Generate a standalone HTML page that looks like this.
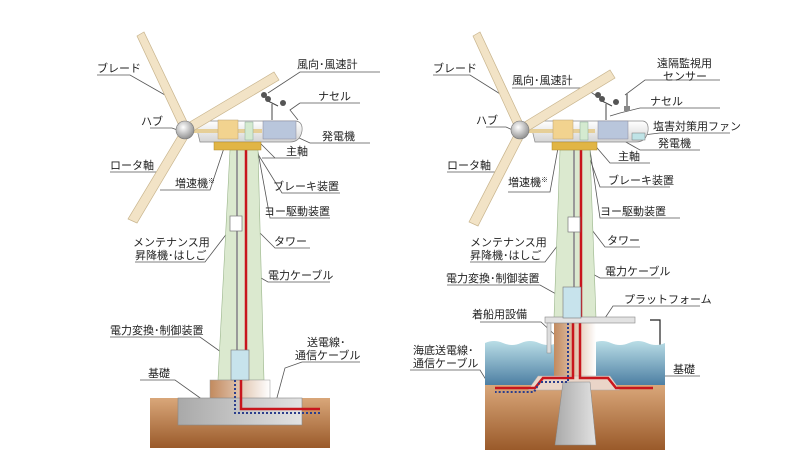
<!DOCTYPE html>
<html><head><meta charset="utf-8"><style>
html,body{margin:0;padding:0;background:#fff}
svg{display:block}
text{font-family:"Liberation Sans","Noto Sans CJK JP",sans-serif;font-size:11px;fill:#222}
</style></head><body>
<svg width="811" height="461" viewBox="0 0 811 461" xmlns="http://www.w3.org/2000/svg">
<defs>
<linearGradient id="gr" x1="0" y1="0" x2="0" y2="1"><stop offset="0" stop-color="#d9a77a"/><stop offset="1" stop-color="#9a5a2a"/></linearGradient>
<linearGradient id="wt" x1="0" y1="0" x2="0" y2="1"><stop offset="0" stop-color="#b9dde6"/><stop offset="1" stop-color="#4d7fa3"/></linearGradient>
<linearGradient id="fb" x1="0" y1="0" x2="1" y2="0"><stop offset="0" stop-color="#c28a5e"/><stop offset="1" stop-color="#fff"/></linearGradient>
<linearGradient id="gy" x1="0" y1="0" x2="1" y2="0"><stop offset="0" stop-color="#a9a9a9"/><stop offset="1" stop-color="#e2e2e2"/></linearGradient>
<linearGradient id="nc" x1="0" y1="0" x2="0" y2="1"><stop offset="0" stop-color="#fff"/><stop offset="1" stop-color="#d4d4d4"/></linearGradient>
<radialGradient id="hb" cx="0.4" cy="0.35" r="0.7"><stop offset="0" stop-color="#fff"/><stop offset="1" stop-color="#8a8a8a"/></radialGradient>
</defs>
<g stroke="#555" stroke-width="0.8" fill="none">
<!-- LEFT leaders -->
<polyline points="97,75 130,75 165,95"/><polyline points="268,93 300,72 380,72"/>
<polyline points="300,103 290,110 298,120"/><line x1="300" y1="103" x2="360" y2="103"/>
<polyline points="150,128 172,128 180,131"/><polyline points="275,127 310,143 370,143"/>
<polyline points="110,172 160,172 185,140"/><polyline points="262,158 300,158"/><line x1="255" y1="138" x2="275" y2="158"/>
<polyline points="160,190 210,190 225,145"/><polyline points="248,138 282,193 340,193"/>
<polyline points="258,152 270,218 330,218"/><polyline points="135,262 205,262 228,232"/>
<polyline points="257,230 275,248 310,248"/><polyline points="247,270 268,282 330,282"/>
<polyline points="110,337 200,337 235,362"/><polyline points="302,362 285,368 275,405"/><line x1="302" y1="362" x2="360" y2="362"/>
<polyline points="140,380 175,380 210,405"/>
<!-- RIGHT leaders -->
<polyline points="433,75 470,75 505,97"/><polyline points="598,97 585,88 512,88"/>
<polyline points="625,95 645,80 720,80"/><polyline points="640,108 620,113 610,116"/><line x1="640" y1="108" x2="720" y2="108"/>
<polyline points="486,127 506,127 515,131"/><polyline points="643,135 660,133 730,133"/>
<polyline points="617,137 640,150 700,150"/><polyline points="447,172 495,172 522,140"/>
<polyline points="592,142 610,163 650,163"/><polyline points="508,192 550,192 558,148"/>
<polyline points="583,140 600,187 670,187"/><polyline points="590,150 600,218 680,218"/>
<polyline points="470,262 545,262 568,232"/><polyline points="592,230 605,247 640,247"/>
<polyline points="585,270 600,278 660,278"/><polyline points="447,285 540,285 574,304"/>
<polyline points="605,318 613,306 700,306"/><polyline points="480,322 541,322 555,335"/>
<polyline points="410,370 480,370 488,383"/><polyline points="660,376 700,376"/>
<polyline points="650,320 660,320 660,445 650,445" stroke="#222" stroke-width="1.2"/>
</g>
<!-- LEFT turbine -->
<rect x="150" y="398" width="180" height="50" fill="url(#gr)"/>
<polygon points="230,150 258,150 264,380 218,380" fill="#dbe9cf" stroke="#9ab58b" stroke-width="0.6"/>
<line x1="237" y1="150" x2="237" y2="350" stroke="#999" stroke-width="2"/>
<line x1="246" y1="150" x2="246" y2="380" stroke="#c8161d" stroke-width="2.5"/>
<rect x="230" y="216" width="12" height="15" fill="#fff" stroke="#777" stroke-width="0.7"/>
<rect x="210" y="380" width="60" height="20" fill="url(#fb)" stroke="#999" stroke-width="0.5"/>
<rect x="178" y="398" width="124" height="27" fill="url(#gy)" stroke="#888" stroke-width="0.6"/>
<rect x="231" y="350" width="18" height="30" fill="#c7e3ec" stroke="#777" stroke-width="0.6"/>
<polyline points="241,380 241,409 320,409" fill="none" stroke="#c8161d" stroke-width="2.5"/>
<polyline points="235,380 235,413 320,413" fill="none" stroke="#2c3e8c" stroke-width="2" stroke-dasharray="2,2"/>
<path d="M195,121 H296 Q303,122 302,131 Q300,142 290,142 H200 Z" fill="url(#nc)" stroke="#888" stroke-width="0.7"/>
<line x1="186" y1="131" x2="262" y2="131" stroke="#e6cf98" stroke-width="4"/>
<rect x="218" y="120" width="20" height="19" fill="#f2d38f" stroke="#b8a070" stroke-width="0.5"/>
<rect x="245" y="122" width="8" height="18" fill="#d4ead0" stroke="#8a9" stroke-width="0.5"/>
<rect x="263" y="121" width="33" height="18" fill="#b9c6dc" stroke="#889" stroke-width="0.5"/>
<rect x="214" y="142" width="47" height="8" fill="#e1b545" stroke="#b08a2a" stroke-width="0.5"/>
<g stroke="#444" stroke-width="1"><line x1="272" y1="120" x2="272" y2="104"/><line x1="266" y1="100" x2="278" y2="106"/></g>
<circle cx="264" cy="95" r="3" fill="#555"/><circle cx="268" cy="99" r="3" fill="#555"/><circle cx="283" cy="103" r="3" fill="#555"/>
<g stroke="#c8b48c" stroke-width="0.7" fill="#f2e3c6">
<polygon points="137,36 144,32 190,128 182,132"/>
<polygon points="183,126 274,72 279,80 188,134"/>
<polygon points="181,131 190,134 137,223 128,219"/>
</g>
<circle cx="185" cy="130" r="9" fill="url(#hb)" stroke="#777" stroke-width="0.6"/>
<!-- RIGHT turbine -->
<rect x="485" y="385" width="180" height="65" fill="url(#gr)"/>
<path d="M485,343 q9,-4 18,0 t18,0 t18,0 t18,0 t18,0 t18,0 t18,0 t18,0 t18,0 t18,0 V385 H485 Z" fill="url(#wt)"/>
<polygon points="560,150 590,150 596,318 554,318" fill="#dbe9cf" stroke="#9ab58b" stroke-width="0.6"/>
<line x1="574" y1="150" x2="574" y2="290" stroke="#999" stroke-width="2"/>
<line x1="581" y1="150" x2="581" y2="318" stroke="#c8161d" stroke-width="2.5"/>
<rect x="568" y="217" width="12" height="15" fill="#fff" stroke="#777" stroke-width="0.7"/>
<rect x="554" y="323" width="42" height="57" fill="url(#fb)"/>
<polygon points="528,390 538,376 610,376 620,390" fill="#ead5c8" stroke="#aaa" stroke-width="0.5"/>
<polygon points="563,382 590,382 596,445 555,445" fill="url(#gy)" stroke="#888" stroke-width="0.5"/>
<polyline points="580,323 580,378 608,378 616,388 653,388" fill="none" stroke="#c8161d" stroke-width="2.5"/>
<polyline points="573,323 573,378 543,378 535,388 495,388" fill="none" stroke="#c8161d" stroke-width="2.5"/>
<polyline points="568,323 568,382 540,382 534,392 495,392" fill="none" stroke="#2c3e8c" stroke-width="2" stroke-dasharray="2,2"/>
<rect x="545" y="317" width="90" height="6" fill="#e2e2e2" stroke="#888" stroke-width="0.6"/>
<rect x="547" y="323" width="4" height="30" fill="#ddd" stroke="#888" stroke-width="0.5"/>
<rect x="563" y="287" width="18" height="31" fill="#c7e3ec" stroke="#777" stroke-width="0.6"/>
<path d="M530,121 H643 Q649,122 648,131 Q646,142 636,142 H535 Z" fill="url(#nc)" stroke="#888" stroke-width="0.7"/>
<line x1="521" y1="131" x2="595" y2="131" stroke="#e6cf98" stroke-width="4"/>
<rect x="553" y="120" width="20" height="19" fill="#f2d38f" stroke="#b8a070" stroke-width="0.5"/>
<rect x="580" y="122" width="8" height="18" fill="#d4ead0" stroke="#8a9" stroke-width="0.5"/>
<rect x="598" y="121" width="30" height="18" fill="#b9c6dc" stroke="#889" stroke-width="0.5"/>
<rect x="632" y="133" width="13" height="7" fill="#bfe3e6" stroke="#777" stroke-width="0.5"/>
<rect x="552" y="142" width="45" height="8" fill="#e1b545" stroke="#b08a2a" stroke-width="0.5"/>
<g stroke="#444" stroke-width="1"><line x1="606" y1="120" x2="606" y2="104"/><line x1="600" y1="100" x2="612" y2="106"/></g>
<circle cx="598" cy="95" r="3" fill="#555"/><circle cx="602" cy="99" r="3" fill="#555"/><circle cx="616" cy="102" r="3" fill="#555"/>
<rect x="624" y="106" width="6" height="5" fill="#888"/><line x1="627" y1="106" x2="627" y2="94" stroke="#777" stroke-width="1.5"/>
<g stroke="#c8b48c" stroke-width="0.7" fill="#f2e3c6">
<polygon points="473,36 480,32 525,128 517,132"/>
<polygon points="518,126 610,70 615,78 523,134"/>
<polygon points="516,131 525,134 478,226 469,222"/>
</g>
<circle cx="520" cy="130" r="9" fill="url(#hb)" stroke="#777" stroke-width="0.6"/>
<!-- LEFT labels -->
<text x="97" y="72">ブレード</text><text x="297" y="68">風向･風速計</text>
<text x="318" y="100">ナセル</text><text x="141" y="125">ハブ</text>
<text x="322" y="140">発電機</text><text x="110" y="169">ロータ軸</text>
<text x="286" y="155">主軸</text><text x="175" y="187">増速機<tspan font-size="7" dy="-4">※</tspan></text>
<text x="273" y="190">ブレーキ装置</text><text x="264" y="215">ヨー駆動装置</text>
<text x="133" y="246">メンテナンス用</text><text x="135" y="259">昇降機･はしご</text>
<text x="274" y="245">タワー</text><text x="268" y="279">電力ケーブル</text>
<text x="110" y="334">電力変換･制御装置</text><text x="307" y="346">送電線･</text>
<text x="295" y="359">通信ケーブル</text><text x="148" y="377">基礎</text>
<!-- RIGHT labels -->
<text x="433" y="72">ブレード</text><text x="512" y="84">風向･風速計</text>
<text x="657" y="67">遠隔監視用</text><text x="663" y="80">センサー</text>
<text x="650" y="105">ナセル</text><text x="476" y="124">ハブ</text>
<text x="653" y="130">塩害対策用ファン</text><text x="658" y="147">発電機</text>
<text x="447" y="169">ロータ軸</text><text x="618" y="160">主軸</text>
<text x="508" y="186">増速機<tspan font-size="7" dy="-4">※</tspan></text><text x="608" y="184">ブレーキ装置</text>
<text x="600" y="215">ヨー駆動装置</text><text x="470" y="246">メンテナンス用</text>
<text x="470" y="259">昇降機･はしご</text><text x="607" y="244">タワー</text>
<text x="605" y="275">電力ケーブル</text><text x="446" y="282">電力変換･制御装置</text>
<text x="624" y="303">プラットフォーム</text><text x="472" y="318">着船用設備</text>
<text x="413" y="354">海底送電線･</text><text x="413" y="367">通信ケーブル</text>
<text x="673" y="373">基礎</text>
</svg>
</body></html>
